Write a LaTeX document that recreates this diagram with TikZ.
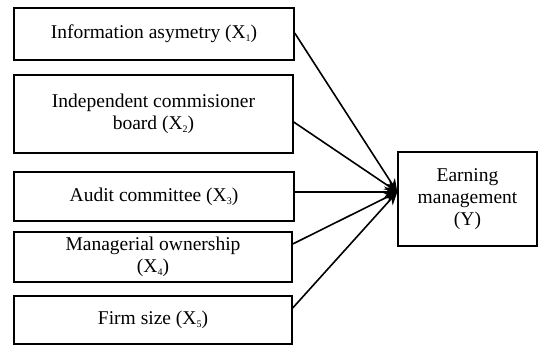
\documentclass[tikz,border=0pt]{standalone}
\usepackage{fontspec}
\setmainfont{Liberation Serif}
\usetikzlibrary{arrows.meta}
\newcommand{\sbs}[1]{\raisebox{-0.35ex}{\fontsize{10}{10}\selectfont #1}}
\begin{document}
\begin{tikzpicture}[x=1pt,y=1pt,
  box/.style={draw=black,line width=1.4pt,minimum width=#1,inner sep=0pt,align=center,
    font=\fontsize{19.5}{22}\selectfont},
  link/.style={line width=1.6pt,-{Stealth[length=13pt,width=11pt]}}]
\useasboundingbox (0,0) rectangle (539,-345);
\node[box=280pt,minimum height=52pt] (b1) at (154,-34) {Information asymetry (X\sbs{1})};
\node[box=279pt,minimum height=78pt] (b2) at (153.5,-114) {Independent commisioner\\board (X\sbs{2})};
\node[box=280pt,minimum height=49pt] (b3) at (154,-196.5) {Audit committee (X\sbs{3})};
\node[box=278pt,minimum height=50pt] (b4) at (153,-257) {Managerial ownership\\(X\sbs{4})};
\node[box=278pt,minimum height=48pt] (b5) at (153,-320) {Firm size (X\sbs{5})};
\node[box=139pt,minimum height=94pt] (y) at (467.5,-199) {Earning\\management\\(Y)};
\coordinate (t) at ([yshift=7pt]y.west);
\draw[link] ([yshift=1pt]b1.east) -- (t);
\draw[link] ([yshift=-8pt]b2.east) -- (t);
\draw[link] ([yshift=4.5pt]b3.east) -- (t);
\draw[link] ([yshift=13pt]b4.east) -- (t);
\draw[link] ([yshift=12pt]b5.east) -- (t);
\end{tikzpicture}
\end{document}
